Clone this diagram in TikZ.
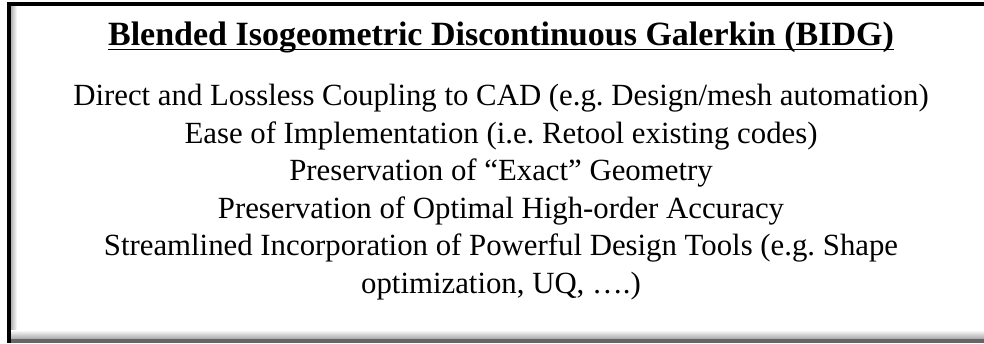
\documentclass[tikz,border=0pt]{standalone}
\usepackage{fontspec}
\setmainfont{Liberation Serif}
\frenchspacing
\begin{document}
\begin{tikzpicture}[x=1pt,y=-1pt,
  bodytext/.style={anchor=base,font=\fontsize{30.8}{37}\selectfont,inner sep=0pt},
  titletext/.style={anchor=base,font=\fontsize{34}{41}\selectfont\bfseries,inner sep=0pt}]
\useasboundingbox (0,0) rectangle (984,343);
\fill[white] (0,0) rectangle (984,343);
% bevelled inner edge of the panel
\shade[left color=black!35, right color=white] (10,5) rectangle (17,336);
\shade[top color=white, bottom color=black!35] (10,330) rectangle (984,339);
\fill[black!60] (10,339) rectangle (984,343);
% black frame, left and top
\fill[black] (7,2) rectangle (984,5.5);
\fill[black] (7,2) rectangle (10.5,343);
% heading
\node[titletext] (title) at (501,45) {Blended Isogeometric Discontinuous Galerkin (BIDG)};
\draw[line width=1.8pt] ([yshift=-4.5pt]title.base west) -- ([yshift=-4.5pt]title.base east);
% list of features
\node[bodytext] (l1) at (501,105) {Direct and Lossless Coupling to CAD (e.g. Design/mesh automation)};
\node[bodytext] (l2) at (501,143) {Ease of Implementation (i.e. Retool existing codes)};
\node[bodytext] (l3) at (501,180) {Preservation of “Exact” Geometry};
\node[bodytext] (l4) at (501,218) {Preservation of Optimal High-order Accuracy};
\node[bodytext] (l5) at (501,255) {Streamlined Incorporation of Powerful Design Tools (e.g. Shape};
\node[bodytext] (l6) at (501,293) {optimization, UQ, ….)};
\end{tikzpicture}
\end{document}
